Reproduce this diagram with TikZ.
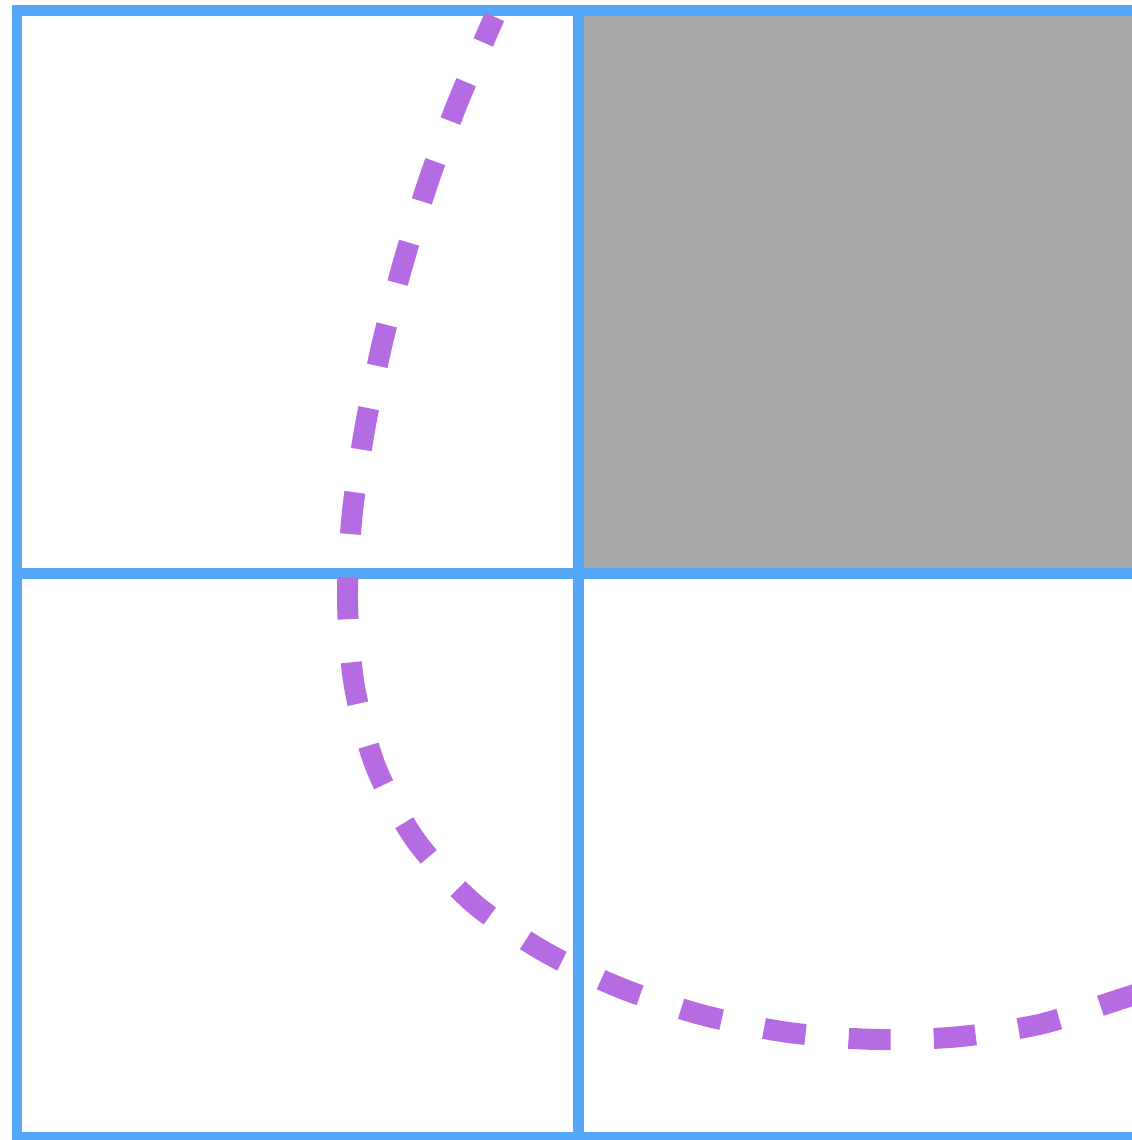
\documentclass[tikz,border=0pt]{standalone}
\begin{document}
\begin{tikzpicture}[x=0.02cm,y=-0.02cm,
  gridline/.style={draw=gridblue,line width=0.21cm,line join=miter},
  cellfill/.style={fill=cellgray},
  curvepath/.style={draw=curvepurple,line width=0.42cm,
    dash pattern=on 0.84cm off 0.865cm,dash phase=0.28cm}]
\definecolor{gridblue}{RGB}{84,168,250}
\definecolor{cellgray}{RGB}{166,169,168}
\definecolor{curvepurple}{RGB}{181,108,226}
\useasboundingbox (0,0) rectangle (1132,1140);
\clip (0,0) rectangle (1132,1140);
% shaded cell
\path[cellfill] (578.5,10.5) rectangle (1140,573.5);
% grid
\coordinate (tl) at (17,10.5);
\coordinate (br) at (1140,1137);
\draw[gridline] (tl) rectangle (br);
\coordinate (vt) at (578.5,10.5);
\coordinate (vb) at (578.5,1137);
\coordinate (hl) at (17,573.5);
\coordinate (hr) at (1140,573.5);
\draw[gridline] (vt) -- (vb);
\draw[gridline] (hl) -- (hr);
% dashed curve
\draw[curvepath] plot[smooth,tension=0.5] coordinates {
 (494.5,16.8) (458.2,101.3) (428.5,181) (403.3,262.6) (381.8,345.3)
 (364.8,428.7) (352.3,513.3) (347.5,598) (354,683.7) (375.7,766.7)
 (415.7,840.3) (473.3,903) (543.7,951.3) (620.6,988) (701.5,1014.7)
 (785.3,1032) (870,1039.3) (955.3,1037) (1039.7,1024.3) (1121,999)
 (1160,986)};
\end{tikzpicture}
\end{document}
